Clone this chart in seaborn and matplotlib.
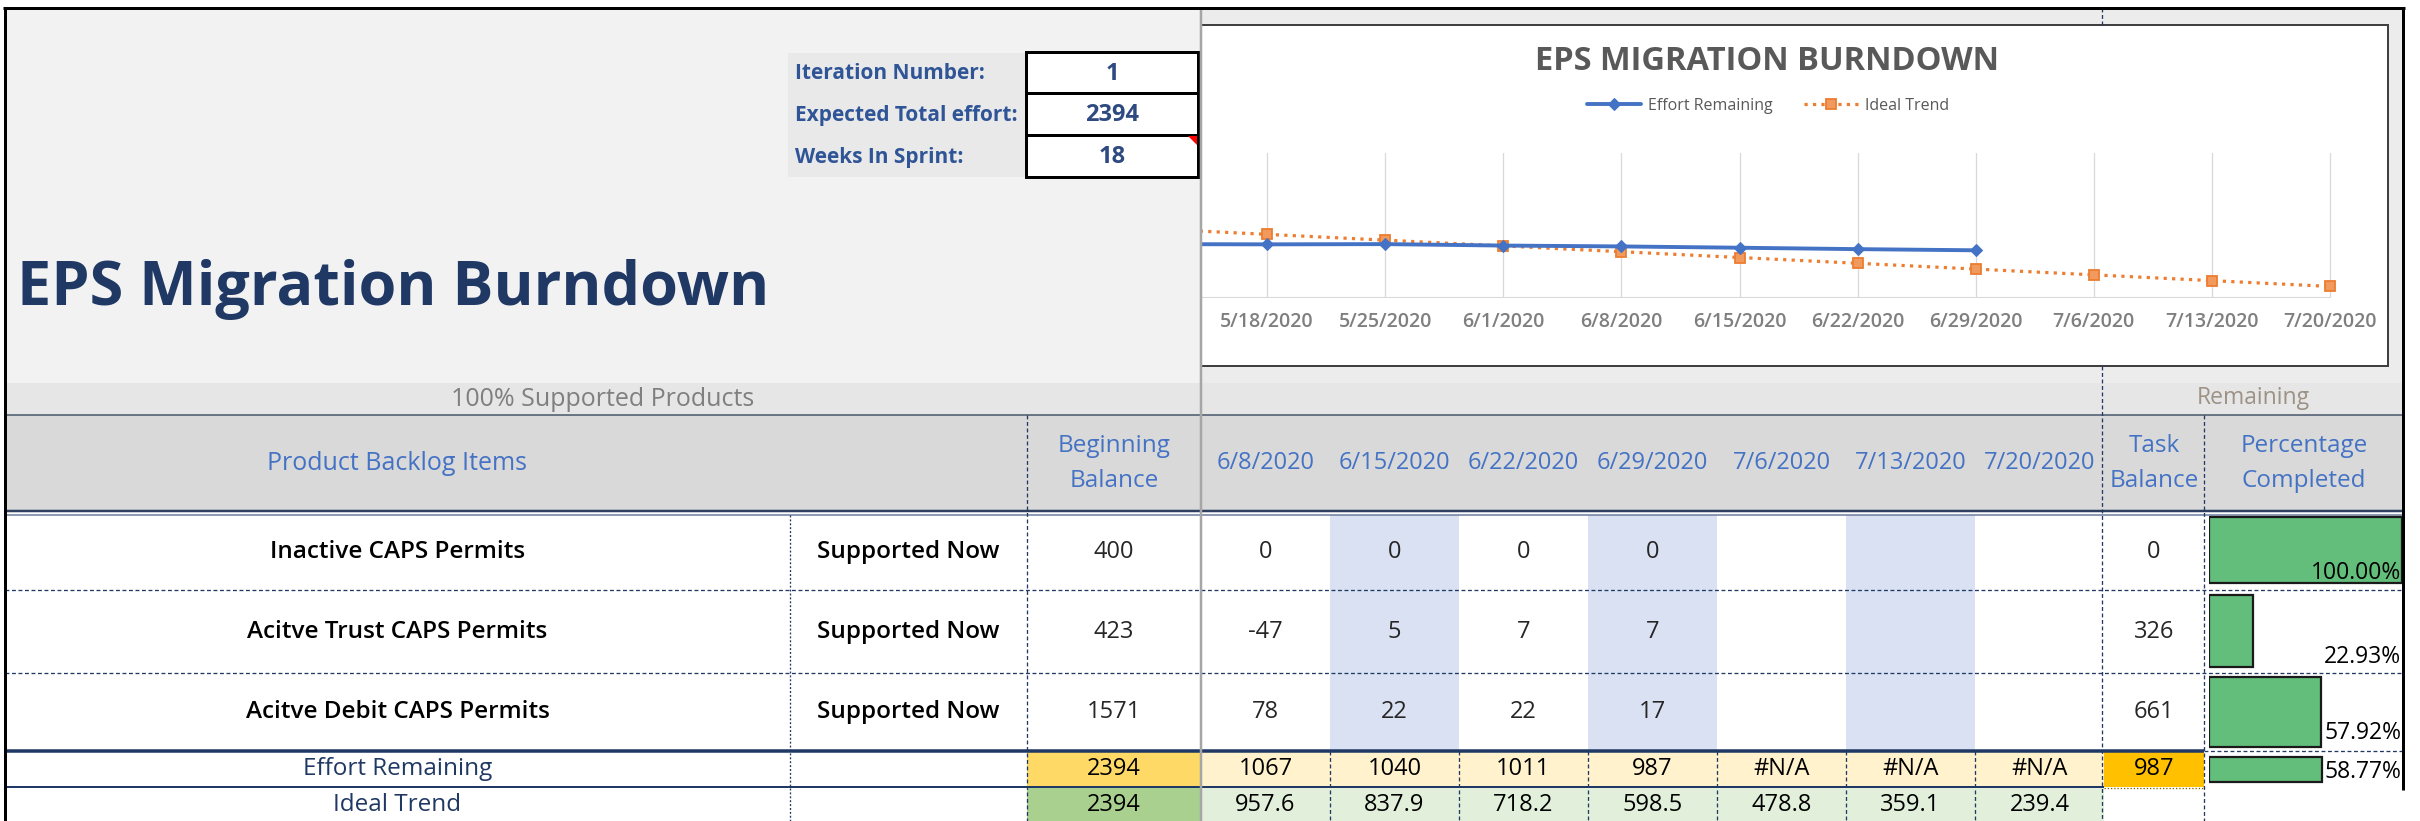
import matplotlib
matplotlib.use("Agg")
import matplotlib.pyplot as plt
import seaborn as sns
import pandas as pd
from matplotlib.patches import Rectangle, Polygon

# ---------------- data ----------------
chart_dates = ["5/11/2020", "5/18/2020", "5/25/2020", "6/1/2020", "6/8/2020", "6/15/2020",
               "6/22/2020", "6/29/2020", "7/6/2020", "7/13/2020", "7/20/2020"]
effort_remaining = [1115, 1110, 1115, 1085, 1067, 1040, 1011, 987]
ideal_trend = [1436.4, 1316.7, 1197.0, 1077.3, 957.6, 837.9, 718.2, 598.5, 478.8, 359.1, 239.4]

items = ["Inactive CAPS Permits", "Acitve Trust CAPS Permits", "Acitve Debit CAPS Permits"]
status = ["Supported Now", "Supported Now", "Supported Now"]
beginning_balance = [400, 423, 1571]
table_dates = ["6/8/2020", "6/15/2020", "6/22/2020", "6/29/2020", "7/6/2020", "7/13/2020", "7/20/2020"]
row1_weekly = ["0", "0", "0", "0", "", "", ""]
row2_weekly = ["-47", "5", "7", "7", "", "", ""]
row3_weekly = ["78", "22", "22", "17", "", "", ""]
task_balance = [0, 326, 661]
pct_completed = [1.0, 0.2293, 0.5792]
effort_row = ["1067", "1040", "1011", "987", "#N/A", "#N/A", "#N/A"]
effort_begin = 2394
effort_task = 987
effort_pct = 0.5877
ideal_row = ["957.6", "837.9", "718.2", "598.5", "478.8", "359.1", "239.4"]
ideal_begin = 2394
input_labels = ["Iteration Number:", "Expected Total effort:", "Weeks In Sprint:"]
input_values = ["1", "2394", "18"]

# ---------------- setup ----------------
W, H = 2420, 821
sns.set_theme(style="white")
plt.rcParams['font.family'] = ['Open Sans', 'DejaVu Sans']

fig = plt.figure(figsize=(W / 100, H / 100), dpi=100)
fig.patch.set_facecolor("white")

bg = fig.add_axes([0, 0, 1, 1], zorder=0)
bg.set_xlim(0, W)
bg.set_ylim(H, 0)
bg.axis("off")

NAVY = "#1F3864"
PX = 72 / 100  # points per pixel


def rect(ax, x0, y0, x1, y1, fc, ec="none", lw=0, z=1):
    ax.add_patch(Rectangle((x0, y0), x1 - x0, y1 - y0, facecolor=fc, edgecolor=ec,
                           linewidth=lw * PX, zorder=z))


def hline(ax, y, x0, x1, color=NAVY, lw=1.2, ls="-", z=3):
    ax.plot([x0, x1], [y, y], color=color, lw=lw * PX, ls=ls, zorder=z, solid_capstyle="butt")


def vline(ax, x, y0, y1, color=NAVY, lw=1.2, ls="-", z=3):
    ax.plot([x, x], [y0, y1], color=color, lw=lw * PX, ls=ls, zorder=z, solid_capstyle="butt")


def txt(ax, x, y, s, size, color="#262626", weight="normal", ha="center", va="center", z=4):
    ax.text(x, y, s, fontsize=size, color=color, fontweight=weight, ha=ha, va=va, zorder=z)


DASH = (0, (3, 2))

# column geometry
XA0, XA1 = 5, 790
XB1 = 1027
XC1 = 1201
date_edges = [1201, 1330, 1459, 1588, 1717, 1846, 1975, 2104]
XT1 = 2204
XR = 2403
row_edges = [515, 590, 673, 751]
EFF0, EFF1 = 751, 787
IDE1 = 821

# ---------------- backgrounds ----------------
rect(bg, XA0, 8, XC1, 383, "#f2f2f2")
rect(bg, XC1, 8, XR, 383, "#ececec")
rect(bg, XA0, 383, XR, 415, "#e7e6e6")
rect(bg, XA0, 415, XR, 511, "#d9d9d9")
rect(bg, XA0, 511, XR, H, "white")

# input block
rect(bg, 788, 53, 1026, 177, "#e9e9e9")
box_edges = [52, 93, 135, 177]
for i in range(3):
    rect(bg, 1026, box_edges[i], 1198, box_edges[i + 1], "white", ec="black", lw=3, z=2)
    txt(bg, 795, (box_edges[i] + box_edges[i + 1]) / 2 + 1, input_labels[i], 15,
        color="#2F5597", weight="bold", ha="left")
    txt(bg, 1112, (box_edges[i] + box_edges[i + 1]) / 2 + 1, input_values[i], 17,
        color="#2E4A80", weight="bold")
bg.add_patch(Polygon([(1188, 136.5), (1197, 136.5), (1197, 145.5)], closed=True,
                     facecolor="red", edgecolor="none", zorder=3))

# big title
txt(bg, 17, 305, "EPS Migration Burndown", 44, color=NAVY, weight="bold", ha="left", va="baseline")

# band texts
txt(bg, 603, 399, "100% Supported Products", 18, color="#7f7f7f")
txt(bg, 2253, 398, "Remaining", 16.5, color="#9c9286")

# chart box
rect(bg, 1201, 25, 2388, 366, "white", ec="#404040", lw=2, z=1)
txt(bg, 1767, 62, "EPS MIGRATION BURNDOWN", 23.5, color="#595959", weight="bold", z=2)

# ---------------- header ----------------
txt(bg, 397, 463, "Product Backlog Items", 18, color="#4472C4")
txt(bg, 1114, 446, "Beginning", 17.5, color="#4472C4")
txt(bg, 1114, 481, "Balance", 17.5, color="#4472C4")
for i, d in enumerate(table_dates):
    txt(bg, (date_edges[i] + date_edges[i + 1]) / 2, 463, d, 17, color="#4472C4")
txt(bg, 2154, 446, "Task", 17.5, color="#4472C4")
txt(bg, 2154, 481, "Balance", 17.5, color="#4472C4")
txt(bg, 2304, 446, "Percentage", 17.5, color="#4472C4")
txt(bg, 2304, 481, "Completed", 17.5, color="#4472C4")

# ---------------- body ----------------
for (a, b) in [(1, 2), (3, 4), (5, 6)]:
    rect(bg, date_edges[a], row_edges[0], date_edges[b], row_edges[3], "#D9E1F2")

rows_weekly = [row1_weekly, row2_weekly, row3_weekly]
for r in range(3):
    yc = (row_edges[r] + row_edges[r + 1]) / 2
    txt(bg, (XA0 + XA1) / 2, yc, items[r], 17.5, color="black", weight="semibold")
    txt(bg, (XA1 + XB1) / 2, yc, status[r], 17.5, color="black", weight="semibold")
    txt(bg, (XB1 + XC1) / 2, yc, str(beginning_balance[r]), 17)
    for i, v in enumerate(rows_weekly[r]):
        if v:
            txt(bg, (date_edges[i] + date_edges[i + 1]) / 2, yc, v, 17)
    txt(bg, 2154, yc, str(task_balance[r]), 17)

# effort remaining row
rect(bg, XB1, EFF0, XC1, EFF1, "#FFD966")
rect(bg, XC1, EFF0, 2104, EFF1, "#FFF2CC")
rect(bg, 2104, EFF0, XT1, EFF1, "#FFC000")
ye = (EFF0 + EFF1) / 2
txt(bg, (XA0 + XA1) / 2, ye, "Effort Remaining", 17.5, color="#203864")
txt(bg, (XB1 + XC1) / 2, ye, str(effort_begin), 17, color="black")
for i, v in enumerate(effort_row):
    txt(bg, (date_edges[i] + date_edges[i + 1]) / 2, ye, v, 17, color="black")
txt(bg, 2154, ye, str(effort_task), 17, color="black")

# ideal trend row
rect(bg, XB1, EFF1, XC1, IDE1 + 2, "#A9D08E")
rect(bg, XC1, EFF1, 2104, IDE1 + 2, "#E2EFDA")
yi = (EFF1 + IDE1) / 2 + 1
txt(bg, (XA0 + XA1) / 2, yi, "Ideal Trend", 17.5, color="#203864")
txt(bg, (XB1 + XC1) / 2, yi, str(ideal_begin), 17, color="black")
for i, v in enumerate(ideal_row):
    txt(bg, (date_edges[i] + date_edges[i + 1]) / 2, yi, v, 17, color="black")

# ---------------- grid lines ----------------
hline(bg, 415, XA0, XR, color="#44546A", lw=1.5)
hline(bg, 511, XA0, XR, color="#2F3F60", lw=2.5)
hline(bg, 515.5, XA0, XR, color="#6A7A9A", lw=1.5)
hline(bg, row_edges[1], XA0, XR, ls=DASH, lw=1.3)
hline(bg, row_edges[2], XA0, XR, ls=DASH, lw=1.3)
hline(bg, EFF0, XA0, XT1, lw=3.5)
hline(bg, EFF0, XT1, XR, ls=DASH, lw=1.3)
hline(bg, EFF1, XA0, 2104, lw=2)
hline(bg, EFF1 + 1, 2104, XT1, color="#7f6000", ls=(0, (1, 1.5)), lw=1.3)
vline(bg, XA1, 515, H, ls=(0, (1.5, 1.5)), lw=1.3)
vline(bg, XB1, 415, H, ls=DASH, lw=1.3)
vline(bg, 2102, 8, 25, ls=DASH, lw=1.3)
vline(bg, 2102, 366, H, ls=DASH, lw=1.3)
vline(bg, XT1, 415, H, ls=DASH, lw=1.3)
for x in date_edges[1:-1]:
    vline(bg, x, EFF0, H, ls=DASH, lw=1.3)

# ---------------- burndown chart ----------------
def fpos(x0, y0, x1, y1):
    return [x0 / W, 1 - y1 / H, (x1 - x0) / W, (y1 - y0) / H]


ax = fig.add_axes(fpos(1201, 153, 2345, 298), zorder=2)
ax.patch.set_alpha(0)
chart_df = pd.DataFrame({"idx": list(range(len(chart_dates))), "date": chart_dates})
eff_df = chart_df.iloc[:len(effort_remaining)].assign(value=effort_remaining)
ide_df = chart_df.assign(value=ideal_trend)

sns.lineplot(data=ide_df, x="idx", y="value", ax=ax, color="#ED7D31", lw=2.3, ls=":",
             marker="s", markersize=7, markerfacecolor="#F19A5E", markeredgecolor="#ED7D31",
             markeredgewidth=1.3, label="Ideal Trend", zorder=3)
sns.lineplot(data=eff_df, x="idx", y="value", ax=ax, color="#4472C4", lw=2.8,
             marker="D", markersize=6, markerfacecolor="#4472C4", markeredgecolor="#4472C4",
             label="Effort Remaining", zorder=4)

ax.set_xticks(chart_df["idx"])
ax.set_xticklabels(chart_df["date"])
px_week = 118.1
xr = len(chart_dates) - 1 + 15 / px_week
xl = xr - (2345 - 1201) / px_week
ax.set_xlim(xl, xr)
ax.set_ylim(0, 3000)
ax.set_yticks([])
ax.set_xlabel("")
ax.set_ylabel("")
for s in ax.spines.values():
    s.set_visible(False)
ax.grid(axis="x", color="#d9d9d9", lw=1.3 * PX)
ax.grid(axis="y", visible=False)
ax.tick_params(axis="x", length=0, pad=10, labelsize=14, labelcolor="#7f7f7f")
for lab in ax.get_xticklabels():
    lab.set_fontweight("semibold")
ax.axhline(0, xmin=0, xmax=(len(chart_dates) - 1 - xl) / (xr - xl), color="#d9d9d9", lw=1.5, zorder=1)

handles, labels = ax.get_legend_handles_labels()
order = [labels.index("Effort Remaining"), labels.index("Ideal Trend")]
leg = ax.legend([handles[i] for i in order], [labels[i] for i in order], loc="center",
                bbox_to_anchor=(1768 / W, 1 - 106 / H), bbox_transform=fig.transFigure,
                ncol=2, frameon=False, fontsize=11.5, handlelength=3.4, handletextpad=0.4,
                columnspacing=2.0)
for t in leg.get_texts():
    t.set_color("#595959")

# ---------------- data bars (percentage completed) ----------------
bar_ax = fig.add_axes(fpos(2209, 505, 2402, 800), zorder=3)
bar_ax.patch.set_alpha(0)
bar_ax.set_xlim(0, 1)
bar_ax.set_ylim(800, 505)
bar_ax.axis("off")
bar_centers = [550, 631, 712, 769.5]
bar_heights = [66, 72, 70, 25]
bar_values = pct_completed + [effort_pct]
bar_ax.barh(bar_centers, bar_values, height=bar_heights, left=0, color="#63BE7B",
            edgecolor="#1a1a1a", linewidth=1.6)

# ---------------- overlay (top layer) ----------------
top = fig.add_axes([0, 0, 1, 1], zorder=5)
top.set_xlim(0, W)
top.set_ylim(H, 0)
top.axis("off")
top.patch.set_alpha(0)
pct_y = [573, 657, 733, 772]
for v, y in zip(bar_values, pct_y):
    txt(top, 2401, y, f"{v * 100:.2f}%", 16.5, color="black", ha="right")
vline(top, 1201, 8, H, color="#a6a6a6", lw=2.5)
hline(top, 8.5, 3, XR + 1.5, color="black", lw=3)
vline(top, 4.5, 7, H, color="black", lw=3)
vline(top, XR, 7, 790, color="black", lw=3)

fig.savefig("out.png", dpi=100)
